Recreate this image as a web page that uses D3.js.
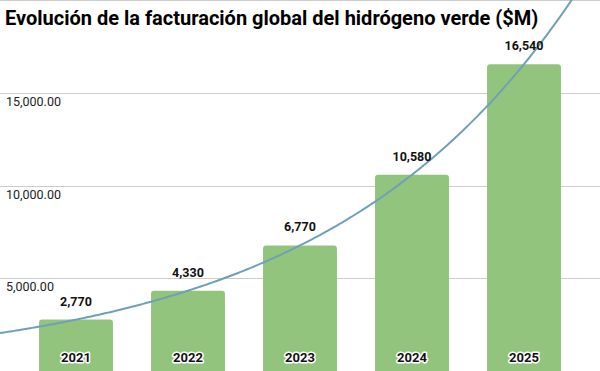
<!DOCTYPE html>
<html>
<head>
<meta charset="utf-8">
<script src="https://cdn.jsdelivr.net/npm/d3@7"></script>
<style>
  html, body { margin: 0; padding: 0; background: #fff; }
  svg { display: block; font-family: Roboto, "Noto Sans", sans-serif; }
</style>
</head>
<body>
<svg id="chart" width="600" height="371"></svg>
<script>
const title = "Evolución de la facturación global del hidrógeno verde ($M)";
const years = ["2021", "2022", "2023", "2024", "2025"];
const revenue = [2770, 4330, 6770, 10580, 16540];
const gridTicks = [5000, 10000, 15000, 20000];
const labeledTicks = [5000, 10000, 15000];

const W = 600, H = 371;
const svg = d3.select("#chart");

const x = d3.scaleBand().domain(years).range([20, 580]).paddingInner(0.34).paddingOuter(0.17);
const y = d3.scaleLinear().domain([0, 20000]).range([H, 0]);

svg.append("defs").append("clipPath").attr("id", "plot")
  .append("rect").attr("x", 0).attr("y", 0).attr("width", W).attr("height", H);

// gridlines
svg.append("g").selectAll("line").data(gridTicks).join("line")
  .attr("x1", 0).attr("x2", W)
  .attr("y1", d => Math.max(0.5, Math.round(y(d)) + 0.5))
  .attr("y2", d => Math.max(0.5, Math.round(y(d)) + 0.5))
  .attr("stroke", "#cccccc").attr("stroke-width", 1);

// tick labels
const fmt = d3.format(",.2f");
svg.append("g").selectAll("text").data(labeledTicks).join("text")
  .attr("x", 6).attr("y", d => y(d) + 13)
  .attr("font-size", 12.5).attr("fill", "#222")
  .text(d => fmt(d));

// bars (rounded top corners)
const r = 3;
svg.append("g").selectAll("path").data(years).join("path")
  .attr("fill", "#93c47d")
  .attr("d", (d, i) => {
    const x0 = x(d), x1 = x(d) + x.bandwidth(), yt = y(revenue[i]), yb = H + 5;
    return `M${x0},${yb}V${yt + r}Q${x0},${yt} ${x0 + r},${yt}H${x1 - r}Q${x1},${yt} ${x1},${yt + r}V${yb}Z`;
  });

// exponential trendline (least squares on ln values)
const idx = years.map((d, i) => i);
const lnv = revenue.map(v => Math.log(v));
const mx = d3.mean(idx), my = d3.mean(lnv);
const b = d3.sum(idx, (d, i) => (d - mx) * (lnv[i] - my)) / d3.sum(idx, d => (d - mx) * (d - mx));
const a = my - b * mx;
const step = x.step();
const c0 = x(years[0]) + x.bandwidth() / 2;
const pts = d3.range(0, W + 1, 2).map(px => {
  const t = (px - c0) / step;
  return [px, y(Math.exp(a + b * t))];
});
svg.append("path")
  .attr("clip-path", "url(#plot)")
  .attr("d", d3.line()(pts))
  .attr("fill", "none").attr("stroke", "#6fa0b8").attr("stroke-width", 2);

// value labels
const vfmt = d3.format(",");
svg.append("g").selectAll("text").data(years).join("text")
  .attr("x", d => x(d) + x.bandwidth() / 2)
  .attr("y", (d, i) => y(revenue[i]) - 14)
  .attr("text-anchor", "middle").attr("font-size", 12.5).attr("font-weight", "bold").attr("fill", "#111")
  .text((d, i) => vfmt(revenue[i]));

// year labels inside bars
svg.append("g").selectAll("text").data(years).join("text")
  .attr("x", d => x(d) + x.bandwidth() / 2)
  .attr("y", 362)
  .attr("text-anchor", "middle").attr("font-size", 13).attr("font-weight", "bold").attr("fill", "#111")
  .attr("stroke", "#fff").attr("stroke-width", 3).attr("paint-order", "stroke").attr("stroke-linejoin", "round")
  .text(d => d);

// title
svg.append("text")
  .attr("x", 5).attr("y", 25)
  .attr("font-size", 20).attr("font-weight", "bold").attr("fill", "#000")
  .text(title);
</script>
</body>
</html>
